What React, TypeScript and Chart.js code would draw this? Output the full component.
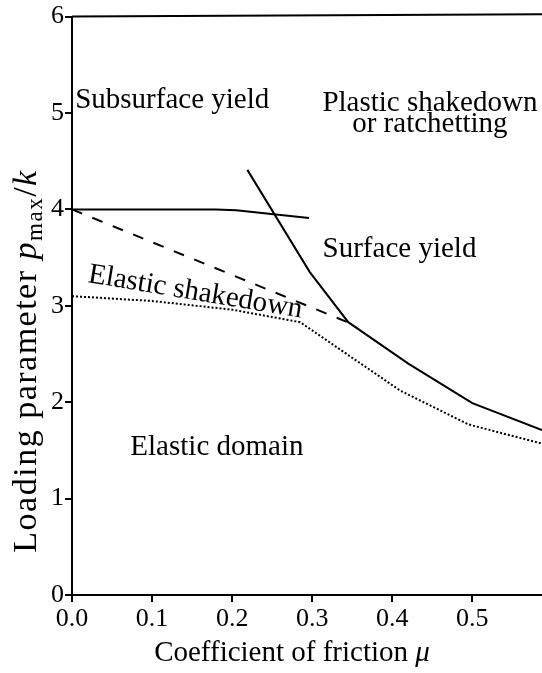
import { useEffect, useRef } from "react";
import { Chart, registerables } from "chart.js";
Chart.register(...registerables);

const xTicks = [0, 0.1, 0.2, 0.3, 0.4, 0.5];
const yTicks = [0, 1, 2, 3, 4, 5, 6];
const X_MAX = 0.587;

const topLineX = [0, 0.587];
const topLineY = [6.0, 6.025];
const subsurfaceX = [0, 0.18, 0.205, 0.296];
const subsurfaceY = [4.0, 4.0, 3.99, 3.91];
const surfaceX = [0.219, 0.297, 0.345, 0.42, 0.5, 0.587];
const surfaceY = [4.41, 3.35, 2.83, 2.4, 1.99, 1.71];
const shakedownX = [0, 0.344];
const shakedownY = [4.0, 2.83];
const elasticX = [0, 0.1, 0.2, 0.285, 0.41, 0.495, 0.587];
const elasticY = [3.1, 3.05, 2.96, 2.83, 2.12, 1.77, 1.57];

const labelTexts = ["Subsurface yield", "Plastic shakedown", "or ratchetting", "Surface yield", "Elastic shakedown", "Elastic domain"];
const labelX = [0.004, 0.447, 0.447, 0.409, 0.154, 0.181];
const labelY = [5.13, 5.1, 4.88, 3.59, 3.14, 1.53];
const labelAngle = [0, 0, 0, 0, 9.5, 0];
const labelAlign = ["left", "center", "center", "center", "center", "center"];

const FONT = "'Liberation Serif', serif";

const pts = (xs: number[], ys: number[]) => xs.map((x, i) => ({ x, y: ys[i] }));

export default function App() {
  const ref = useRef<HTMLCanvasElement>(null);
  useEffect(() => {
    if (!ref.current) return;
    const line = (xs: number[], ys: number[], dash: number[] = []) => ({
      data: pts(xs, ys),
      borderColor: "#000",
      borderWidth: 2,
      borderDash: dash,
      pointRadius: 0,
      tension: 0,
      fill: false,
      clip: false as any,
    });
    const textPlugin = {
      id: "texts",
      afterDraw(chart: any) {
        const ctx = chart.ctx;
        const xs = chart.scales.x;
        const ys = chart.scales.y;
        ctx.save();
        ctx.fillStyle = "#000";
        ctx.textBaseline = "middle";
        ctx.font = `29px ${FONT}`;
        labelTexts.forEach((t, i) => {
          ctx.save();
          ctx.translate(xs.getPixelForValue(labelX[i]), ys.getPixelForValue(labelY[i]));
          ctx.rotate((labelAngle[i] * Math.PI) / 180);
          ctx.textAlign = labelAlign[i];
          ctx.fillText(t, 0, 0);
          ctx.restore();
        });
        // x title
        ctx.textBaseline = "alphabetic";
        ctx.textAlign = "left";
        const a = "Coefficient of friction ";
        ctx.font = `29px ${FONT}`;
        const wa = ctx.measureText(a).width;
        ctx.font = `italic 29px ${FONT}`;
        const wb = ctx.measureText("μ").width;
        const x0 = 292 - (wa + wb) / 2;
        ctx.font = `29px ${FONT}`;
        ctx.fillText(a, x0, 661);
        ctx.font = `italic 29px ${FONT}`;
        ctx.fillText("μ", x0 + wa, 661);
        // y title
        ctx.save();
        ctx.translate(36, 361);
        ctx.rotate(-Math.PI / 2);
        (ctx as any).letterSpacing = "1.5px";
        const parts: [string, string, number][] = [
          ["Loading parameter ", `34px ${FONT}`, 0],
          ["p", `italic 34px ${FONT}`, 0],
          ["max", `23px ${FONT}`, 6],
          ["/", `34px ${FONT}`, 0],
          ["k", `italic 34px ${FONT}`, 0],
        ];
        let total = 0;
        parts.forEach(([s, f]) => { ctx.font = f; total += ctx.measureText(s).width; });
        let cx = -total / 2;
        parts.forEach(([s, f, dy]) => {
          ctx.font = f;
          ctx.fillText(s, cx, dy);
          cx += ctx.measureText(s).width;
        });
        (ctx as any).letterSpacing = "0px";
        ctx.restore();
        ctx.restore();
      },
    };
    const chart = new Chart(ref.current, {
      type: "line",
      data: {
        datasets: [
          line(topLineX, topLineY),
          line(subsurfaceX, subsurfaceY),
          line(surfaceX, surfaceY),
          line(shakedownX, shakedownY, [11, 11]),
          line(elasticX, elasticY, [2, 2]),
        ] as any,
      },
      options: {
        animation: false,
        responsive: false,
        devicePixelRatio: 1,
        layout: { padding: { top: 13, right: 0, left: 0, bottom: 0 } },
        plugins: { legend: { display: false }, tooltip: { enabled: false }, title: { display: false } },
        scales: {
          x: {
            type: "linear",
            min: 0,
            max: X_MAX,
            border: { color: "#000", width: 2 },
            grid: { drawOnChartArea: false, drawTicks: true, tickLength: 7, color: "#000", lineWidth: 2 },
            ticks: {
              color: "#000",
              padding: 2,
              font: { family: FONT, size: 26 },
              callback: (v: any) => Number(v).toFixed(1),
            },
            afterBuildTicks: (s: any) => { s.ticks = xTicks.map((v) => ({ value: v })); },
            afterFit: (s: any) => { s.height = 78; },
          },
          y: {
            type: "linear",
            min: 0,
            max: 6,
            border: { color: "#000", width: 2 },
            grid: { drawOnChartArea: false, drawTicks: true, tickLength: 7, color: "#000", lineWidth: 2 },
            ticks: {
              color: "#000",
              padding: 1,
              font: { family: FONT, size: 26 },
              callback: (v: any) => String(v),
            },
            afterBuildTicks: (s: any) => { s.ticks = yTicks.map((v) => ({ value: v })); },
            afterFit: (s: any) => { s.width = 72; },
          },
        },
      } as any,
      plugins: [textPlugin],
    });
    return () => chart.destroy();
  }, []);
  return (
    <div style={{ position: "absolute", left: 0, top: 0, width: 542, height: 673, background: "#fff" }}>
      <canvas ref={ref} width={542} height={673} style={{ display: "block" }} />
    </div>
  );
}
